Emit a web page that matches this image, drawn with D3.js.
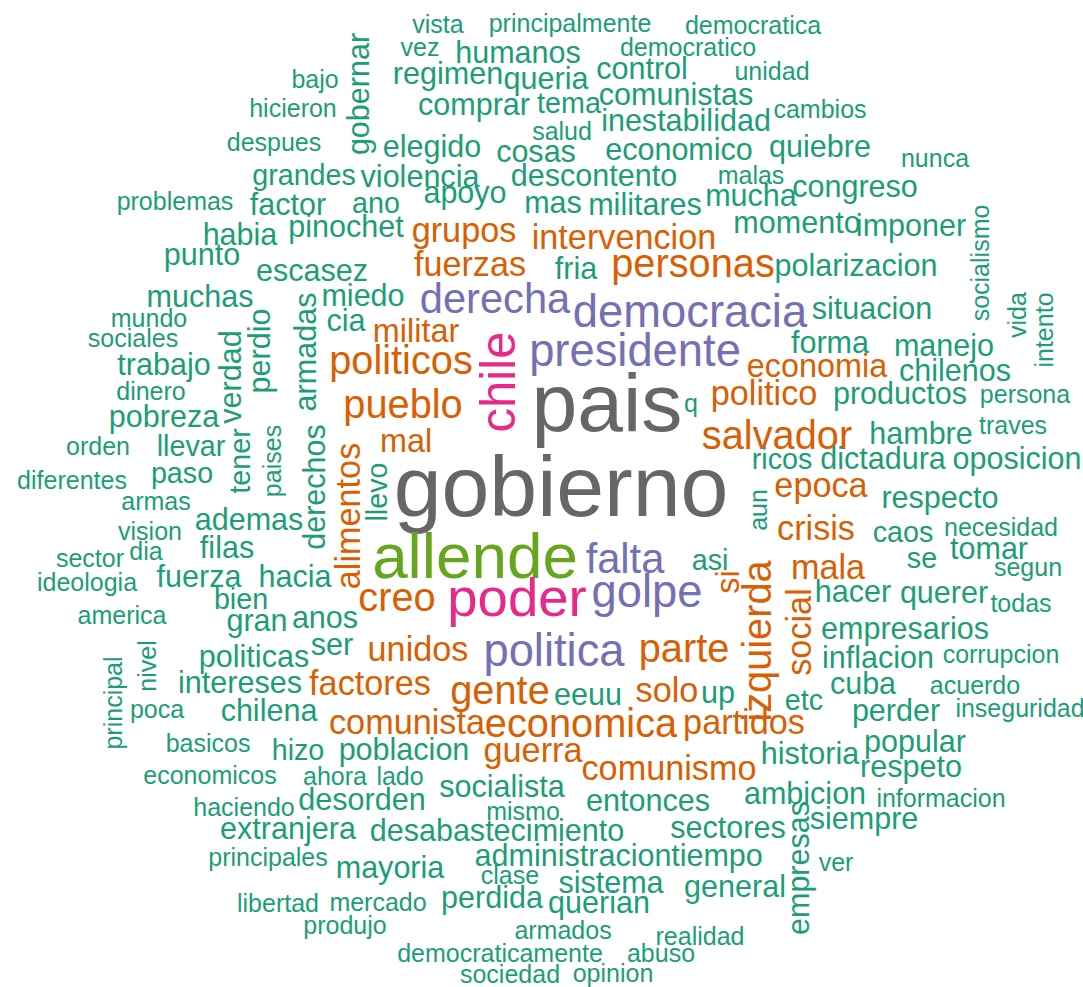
<!DOCTYPE html>
<html>
<head>
<meta charset="utf-8">
<script src="https://cdn.jsdelivr.net/npm/d3@7"></script>
<style>
  html, body { margin: 0; padding: 0; background: #ffffff; }
  svg { display: block; }
  text { font-family: "Liberation Sans", Arial, Helvetica, sans-serif; }
</style>
</head>
<body>
<div id="chart"></div>
<script>
const words = [
  "vista","principalmente","democratica","vez","humanos","democratico","unidad","gobernar","bajo","hicieron",
  "regimen","queria","control","comunistas","comprar","tema","inestabilidad","cambios","despues","salud",
  "elegido","cosas","economico","quiebre","nunca","grandes","violencia","descontento","malas","problemas",
  "factor","ano","apoyo","mas","militares","mucha","congreso","habia","pinochet","grupos",
  "intervencion","momento","imponer","socialismo","punto","escasez","fuerzas","fria","personas","polarizacion",
  "muchas","miedo","derecha","democracia","situacion","vida","intento","mundo","cia","sociales",
  "perdio","verdad","armadas","militar","politicos","chile","presidente","trabajo","economia","forma",
  "manejo","chilenos","dinero","pueblo","pais","q","politico","productos","persona","pobreza",
  "mal","salvador","hambre","traves","orden","llevar","tener","paises","derechos","alimentos",
  "llevo","gobierno","ricos","dictadura","oposicion","diferentes","paso","epoca","respecto","armas",
  "ademas","aun","crisis","caos","necesidad","vision","filas","dia","sector","allende",
  "falta","asi","izquierda","si","mala","se","tomar","segun","social","hacer",
  "querer","todas","ideologia","fuerza","hacia","creo","poder","golpe","bien","america",
  "gran","anos","ser","unidos","politica","parte","principal","nivel","politicas","intereses",
  "factores","gente","eeuu","solo","up","etc","empresarios","inflacion","corrupcion","cuba",
  "acuerdo","perder","inseguridad","poca","chilena","comunista","economica","partidos","basicos","hizo",
  "poblacion","guerra","historia","popular","respeto","comunismo","economicos","ahora","lado","socialista",
  "entonces","ambicion","informacion","haciendo","desorden","mismo","extranjera","desabastecimiento","sectores","siempre",
  "empresas","principales","mayoria","administracion","tiempo","clase","sistema","general","ver","libertad",
  "mercado","perdida","querian","produjo","armados","realidad","democraticamente","abuso","sociedad","opinion"
];

// word frequencies (estimated from the glyph sizes)
const freqs = [
  5,5,5,5,8,5,5,8,5,5,
  8,8,8,8,8,7,8,5,5,5,
  8,8,8,8,5,7,8,8,5,5,
  8,7,8,8,8,8,8,8,8,10,
  10,8,8,5,8,8,10,8,13,8,
  8,8,14,16,8,5,5,5,8,5,
  8,8,8,9,13,18,16,8,9,8,
  8,8,5,13,36,5,10,8,5,8,
  9,13,8,5,5,7,7,5,8,10,
  7,38,7,8,8,5,7,10,8,5,
  8,5,10,7,5,5,8,5,5,26,
  14,7,13,9,10,7,8,5,10,8,
  8,5,5,8,8,13,21,16,7,5,
  8,8,8,10,16,13,5,5,8,8,
  10,13,8,10,8,7,8,8,5,8,
  5,8,5,5,8,10,13,10,5,7,
  8,10,8,8,8,10,5,5,5,8,
  8,8,5,5,8,5,8,8,8,8,
  8,5,8,8,8,5,8,8,5,5,
  5,8,8,5,5,5,5,5,5,5
];

// cloud layout (centre of each word, reference units)
const layoutX = [
  438,570,753,420,518,688,772,358,315,293,
  448,546,642,676,474,569,686,820,274,562,
  432,536,679,820,935,304,420,594,751,175,
  288,376,465,553,645,751,855,240,346,464,
  624,797,911,980,202,312,470,576,693,856,
  200,363,495,690,872,1017,1044,149,346,133,
  259,230,305,416,401,498,635,164,817,830,
  944,955,151,403,607,691,764,900,1025,164,
  406,777,921,1013,98,191,240,272,314,348,
  377,561,782,883,1017,72,182,821,940,156,
  249,758,816,903,1001,150,227,146,90,475,
  625,710,757,728,828,922,989,1028,799,853,
  944,1021,87,199,295,397,517,647,241,122,
  257,325,332,418,554,684,113,147,254,240,
  370,500,588,667,718,804,905,878,1001,863,
  975,896,1020,157,269,407,581,744,208,298,
  404,533,810,915,911,669,210,335,400,502,
  648,805,941,244,362,523,288,497,728,864,
  798,268,390,573,717,510,611,735,836,278,
  378,492,599,345,563,700,500,661,510,613
];
const layoutY = [
  24,23,25,47,52,47,71,94,79,108,
  73,78,68,94,104,103,120,109,142,131,
  146,151,149,146,158,175,176,175,175,201,
  204,203,192,202,204,195,186,234,226,230,
  237,222,225,263,254,270,264,268,263,265,
  296,295,298,311,308,315,330,318,320,338,
  351,377,352,331,360,382,350,364,366,342,
  345,370,391,404,402,403,393,393,394,416,
  441,435,433,425,446,446,461,461,487,516,
  492,486,459,458,458,480,473,485,497,501,
  519,510,528,532,527,531,547,551,558,556,
  558,560,641,582,567,558,548,567,632,591,
  592,603,582,576,576,597,597,591,599,615,
  620,617,644,649,650,648,703,666,656,682,
  683,690,694,690,692,700,628,657,654,683,
  685,710,708,709,710,722,723,722,743,750,
  749,750,753,741,766,768,775,776,776,786,
  800,793,798,807,799,811,828,830,827,818,
  868,857,867,855,855,875,882,886,862,903,
  902,897,902,925,930,936,953,953,974,973
];

// words drawn reading bottom-to-top
const verticalWords = [
  "gobernar","socialismo","vida","intento","perdio","verdad","armadas","chile","tener","paises",
  "derechos","alimentos","llevo","aun","izquierda","si","social","principal","nivel","empresas"
];

// colour palette (RColorBrewer Dark2 subset) and the frequency breaks it follows
const palette = ["#1B9E77","#D95F02","#7570B3","#E7298A","#66A61E","#666666"];
const colorBreaks = [9, 14, 18, 23, 31];

// ---- drawing ----
const W = 1083, H = 987;
const svg = d3.select("#chart").append("svg")
  .attr("width", W).attr("height", H)
  .attr("viewBox", `0 0 ${W} ${H}`);

svg.append("rect").attr("width", W).attr("height", H).attr("fill", "#ffffff");

const x = d3.scaleLinear().domain([0, 1083]).range([0, W]);
const y = d3.scaleLinear().domain([0, 987]).range([0, H]);
const size = d3.scaleLinear().domain([5, 38]).range([25, 86]);
const color = d3.scaleThreshold().domain(colorBreaks).range(palette);

const data = words.map((w, i) => ({
  text: w,
  freq: freqs[i],
  cx: layoutX[i],
  cy: layoutY[i],
  rotate: verticalWords.includes(w) ? -90 : 0
}));

svg.append("g")
  .selectAll("text")
  .data(data)
  .join("text")
  .attr("text-anchor", "middle")
  .attr("dominant-baseline", "central")
  .attr("transform", d => `translate(${x(d.cx)},${y(d.cy)}) rotate(${d.rotate})`)
  .style("font-size", d => size(d.freq) + "px")
  .attr("fill", d => color(d.freq))
  .text(d => d.text);
</script>
</body>
</html>
